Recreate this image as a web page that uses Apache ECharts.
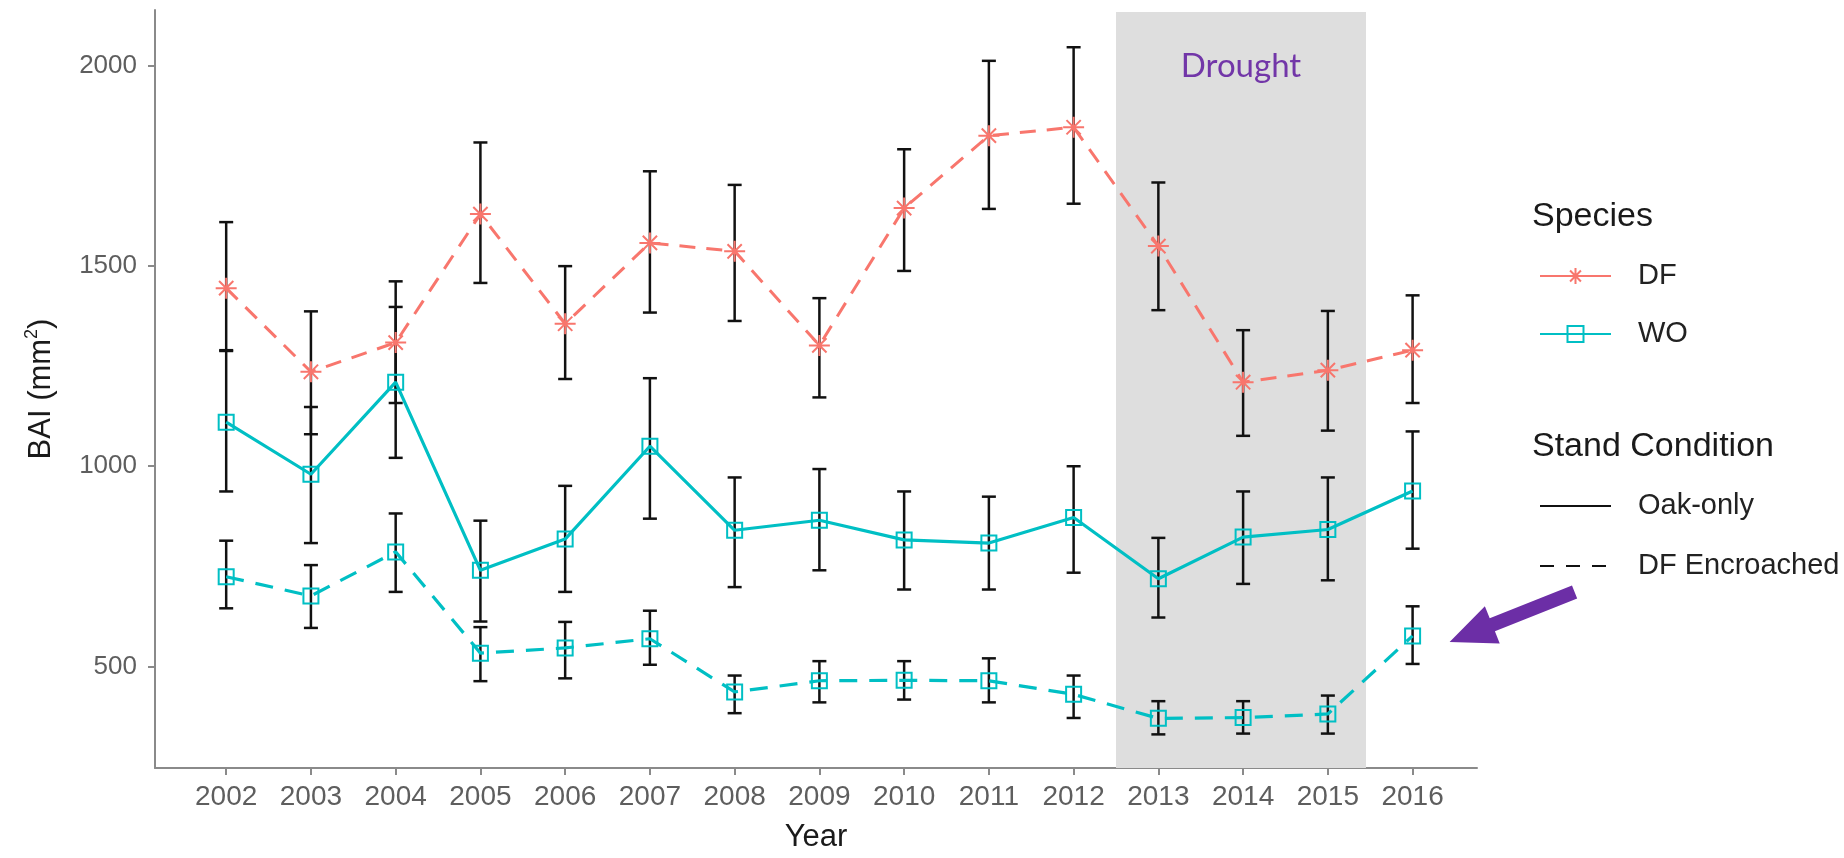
<!DOCTYPE html>
<html>
<head>
<meta charset="utf-8">
<script src="https://cdn.jsdelivr.net/npm/echarts@6/dist/echarts.min.js"></script>
<style>
html,body{margin:0;padding:0;background:#fff;}
#chart{width:1844px;height:858px;}
</style>
</head>
<body>
<div id="chart"></div>
<script>
// ---------------- data ----------------
const years = [2002,2003,2004,2005,2006,2007,2008,2009,2010,2011,2012,2013,2014,2015,2016];
const yTicks = [500,1000,1500,2000];

// Douglas-fir (DF) in DF-encroached stands (dashed, salmon)
const dfEncMean = [1445,1236,1309,1630,1356,1558,1537,1302,1645,1826,1847,1550,1210,1240,1290];
const dfEncLow  = [1288,1080,1158,1458,1218,1384,1363,1172,1488,1643,1656,1390,1076,1089,1158];
const dfEncHigh = [1610,1387,1462,1809,1500,1737,1703,1420,1792,2013,2047,1709,1340,1388,1427];

// White oak (WO) in oak-only stands (solid, teal)
const woOakMean = [1110, 980,1210, 740, 818,1050, 840, 865, 816, 808, 872, 719, 823, 842, 938];
const woOakLow  = [ 937, 808,1021, 612, 686, 869, 698, 740, 692, 692, 734, 622, 706, 715, 794];
const woOakHigh = [1290,1148,1398, 864, 951,1220, 972, 993, 937, 924,1000, 821, 937, 972,1087];

// White oak (WO) in DF-encroached stands (dashed, teal)
const woEncMean = [724,676,786,533,546,569,436,464,465,464,430,370,372,381,576];
const woEncLow  = [645,596,686,463,470,504,383,410,417,410,371,330,332,332,506];
const woEncHigh = [814,753,882,598,611,639,477,513,513,520,477,413,413,427,650];

const droughtRange = [2012.5, 2015.45];
const droughtLabel = 'Drought';
const speciesNames = ['DF','WO'];
const standNames = ['Oak-only','DF Encroached'];

// axis ranges
const xMin = 2001.16, xMax = 2016.76;
const yMin = 246, yMax = 2140, droughtTop = 2135;

// ---------------- styles ----------------
const FONT = '"Liberation Sans", Arial, sans-serif';
const SALMON = '#F8766D';
const TEAL = '#00BFC4';
const AXIS = '#8a8a8a';
const ASTERISK = 'path://M0,5L10,5M5,0L5,10M1.6,1.6L8.4,8.4M8.4,1.6L1.6,8.4';
const SQUARE = 'path://M0,0L10,0L10,10L0,10Z';

const chart = echarts.init(document.getElementById('chart'), null, {renderer:'canvas'});

function pts(mean){ return years.map((y,i)=>[y, mean[i]]); }

function errSeries(name, low, high){
  return {
    name: name, type:'custom', z:2, silent:true,
    data: years.map((y,i)=>[y, low[i], high[i]]),
    encode:{x:0, y:[1,2]},
    renderItem: function(params, api){
      const x = api.value(0);
      const lo = api.coord([x, api.value(1)]);
      const hi = api.coord([x, api.value(2)]);
      const w = 7;
      const st = {stroke:'#111', lineWidth:2.5};
      return {type:'group', children:[
        {type:'line', shape:{x1:lo[0],y1:lo[1],x2:hi[0],y2:hi[1]}, style:st},
        {type:'line', shape:{x1:lo[0]-w,y1:lo[1],x2:lo[0]+w,y2:lo[1]}, style:st},
        {type:'line', shape:{x1:hi[0]-w,y1:hi[1],x2:hi[0]+w,y2:hi[1]}, style:st}
      ]};
    }
  };
}

const option = {
  animation:false,
  backgroundColor:'#fff',
  grid:{left:155, top:10, width:1322, height:760},
  title:[
    {text:'Species', left:1532, top:200, padding:0,
     textStyle:{fontFamily:FONT, fontSize:34, fontWeight:'normal', color:'#1a1a1a'}},
    {text:'Stand Condition', left:1532, top:430, padding:0,
     textStyle:{fontFamily:FONT, fontSize:34, fontWeight:'normal', color:'#1a1a1a'}}
  ],
  legend:[
    {data:speciesNames, orient:'vertical', left:1539, top:261, padding:0,
     itemWidth:71, itemHeight:20, itemGap:28, selectedMode:false,
     lineStyle:{width:2},
     textStyle:{fontFamily:FONT, fontSize:29, lineHeight:30, color:'#222', padding:[0,0,0,22]}},
    {data:standNames, orient:'vertical', left:1539, top:491, padding:0,
     itemWidth:71, itemHeight:20, itemGap:30, selectedMode:false,
     lineStyle:{width:2},
     textStyle:{fontFamily:FONT, fontSize:29, lineHeight:30, color:'#222', padding:[0,0,0,22]}}
  ],
  xAxis:{
    type:'value', min:xMin, max:xMax,
    axisLine:{show:true, onZero:false, lineStyle:{color:AXIS, width:2}},
    axisTick:{show:true, length:7, customValues:years, lineStyle:{color:AXIS, width:2}},
    axisLabel:{customValues:years, formatter:v=>String(Math.round(v)),
      fontFamily:FONT, fontSize:28, color:'#5e5e5e', margin:15},
    splitLine:{show:false},
    name:'Year', nameLocation:'middle', nameGap:54,
    nameTextStyle:{fontFamily:FONT, fontSize:31, color:'#1a1a1a'}
  },
  yAxis:{
    type:'value', min:yMin, max:yMax,
    axisLine:{show:true, onZero:false, lineStyle:{color:AXIS, width:2}},
    axisTick:{show:true, length:7, customValues:yTicks, lineStyle:{color:AXIS, width:2}},
    axisLabel:{customValues:yTicks, formatter:v=>String(Math.round(v)),
      fontFamily:FONT, fontSize:26, color:'#5e5e5e', margin:18},
    splitLine:{show:false},
    name:'{n|BAI (mm}{s|2}{n|)}', nameLocation:'middle', nameGap:96, nameRotate:90,
    nameTextStyle:{rich:{
      n:{fontFamily:FONT, fontSize:31, color:'#1a1a1a', lineHeight:36},
      s:{fontFamily:FONT, fontSize:18, color:'#1a1a1a', verticalAlign:'top', lineHeight:36}
    }}
  },
  series:[
    errSeries('errDF', dfEncLow, dfEncHigh),
    errSeries('errWOoak', woOakLow, woOakHigh),
    errSeries('errWOenc', woEncLow, woEncHigh),
    {
      name:'WO encroached', type:'line', z:3, data:pts(woEncMean),
      symbol:SQUARE, symbolSize:15, showAllSymbol:true,
      lineStyle:{color:TEAL, width:3.2, type:[18,12]},
      itemStyle:{color:'rgba(0,0,0,0)', borderColor:TEAL, borderWidth:2},
      markArea:{
        silent:true,
        itemStyle:{color:'#dedede'},
        label:{show:true, position:'insideTop', distance:38, color:'#7236a8',
               fontFamily:'Lato, "Open Sans", sans-serif', fontSize:33},
        data:[[{name:droughtLabel, coord:[droughtRange[0], droughtTop]}, {coord:[droughtRange[1], yMin]}]]
      }
    },
    {
      name:'WO oak-only', type:'line', z:3, data:pts(woOakMean),
      symbol:SQUARE, symbolSize:15, showAllSymbol:true,
      lineStyle:{color:TEAL, width:3.2},
      itemStyle:{color:'rgba(0,0,0,0)', borderColor:TEAL, borderWidth:2}
    },
    {
      name:'DF encroached', type:'line', z:3, data:pts(dfEncMean),
      symbol:ASTERISK, symbolSize:21, showAllSymbol:true,
      lineStyle:{color:SALMON, width:3, type:[16,11]},
      itemStyle:{color:'rgba(0,0,0,0)', borderColor:SALMON, borderWidth:2}
    },
    // legend-only entries
    {name:'DF', type:'line', data:[], symbol:ASTERISK,
     lineStyle:{color:SALMON, width:2}, itemStyle:{color:'rgba(0,0,0,0)', borderColor:SALMON, borderWidth:1.5}},
    {name:'WO', type:'line', data:[], symbol:SQUARE,
     lineStyle:{color:TEAL, width:2}, itemStyle:{color:'rgba(0,0,0,0)', borderColor:TEAL, borderWidth:1.5}},
    {name:'Oak-only', type:'line', data:[], symbol:'none',
     lineStyle:{color:'#111', width:2}, itemStyle:{color:'rgba(0,0,0,0)', borderWidth:0}},
    {name:'DF Encroached', type:'line', data:[], symbol:'none',
     lineStyle:{color:'#111', width:2, type:[14,12]}, itemStyle:{color:'rgba(0,0,0,0)', borderWidth:0}}
  ]
};
chart.setOption(option);

// purple annotation arrow pointing at the 2016 WO (DF encroached) point
const last = years.length - 1;
const p = chart.convertToPixel({gridIndex:0}, [years[last], woEncMean[last]]);
const tip = [p[0] + 37, p[1] + 6];
const tail = [tip[0] + 125, tip[1] - 50];
const dx = tip[0]-tail[0], dy = tip[1]-tail[1];
const len = Math.sqrt(dx*dx+dy*dy);
const ux = dx/len, uy = dy/len, nx = -uy, ny = ux;
const headLen = 46, headHalf = 20, shaftHalf = 7;
const base = [tip[0]-ux*headLen, tip[1]-uy*headLen];
const poly = [
  [tail[0]+nx*shaftHalf, tail[1]+ny*shaftHalf],
  [base[0]+nx*shaftHalf, base[1]+ny*shaftHalf],
  [base[0]+nx*headHalf, base[1]+ny*headHalf],
  tip,
  [base[0]-nx*headHalf, base[1]-ny*headHalf],
  [base[0]-nx*shaftHalf, base[1]-ny*shaftHalf],
  [tail[0]-nx*shaftHalf, tail[1]-ny*shaftHalf]
];
chart.setOption({graphic:[{type:'polygon', shape:{points:poly}, style:{fill:'#6c2ea6'}, z:10}]});
</script>
</body>
</html>
